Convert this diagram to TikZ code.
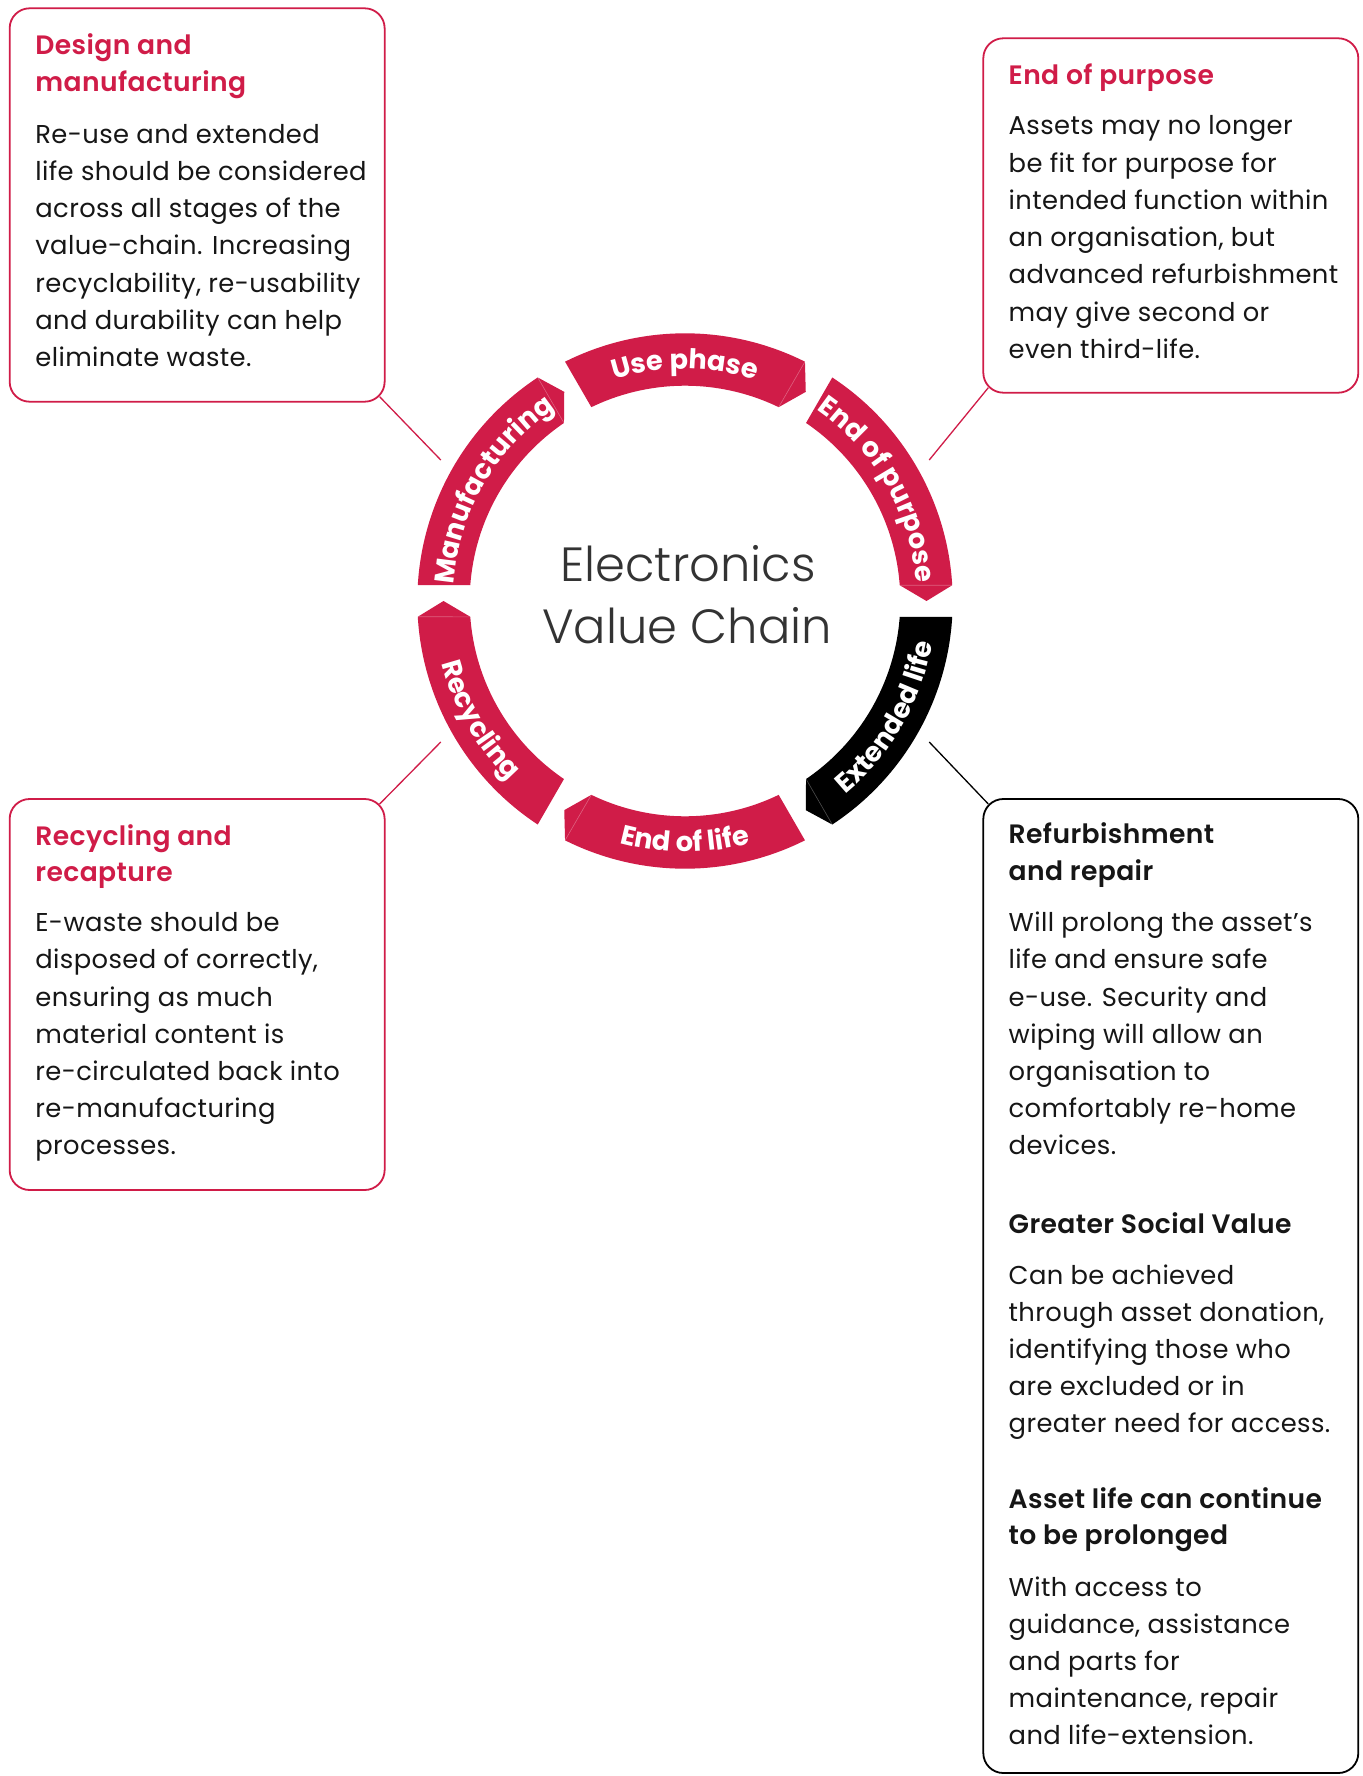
\documentclass[tikz,border=0pt]{standalone}
\usepackage{fontspec}
\setmainfont{Poppins}[BoldFont={* SemiBold}]
\newfontfamily\cardfont{Poppins}[LetterSpace=1.5, BoldFont={* SemiBold}]
\newfontfamily\ringfamily{Poppins}
\newfontfamily\lightfont{Poppins Light}
\usetikzlibrary{calc,decorations.text}

\definecolor{vcred}{RGB}{208,28,72}
\definecolor{ink}{RGB}{22,22,22}
\definecolor{titlegrey}{RGB}{51,51,51}

\newcommand{\ringfont}{\ringfamily\bfseries\fontsize{13.6}{15}\selectfont}
\newcommand{\cardlines}[1]{\parbox[t]{200pt}{#1}}

\tikzset{
  card/.style={draw=vcred, line width=0.9pt, rounded corners=10pt, minimum width=187.5pt},
  cardhead/.style={anchor=base west, inner sep=0pt, text=vcred, font=\cardfont\bfseries\fontsize{13.3}{18.35}\selectfont},
  cardbody/.style={anchor=base west, inner sep=0pt, text=ink, font=\cardfont\fontsize{12.9}{18.6}\selectfont},
  centretitle/.style={anchor=base, inner sep=0pt, text=titlegrey, font=\lightfont\fontsize{24}{30}\selectfont},
  link/.style={draw=vcred, line width=0.65pt},
}

\begin{document}
\begin{tikzpicture}[x=0.5pt, y=0.5pt]
	\path[fill=white, use as bounding box] (0,0) rectangle (1362,-1776);

	% the ring: six chevron pieces, each 60 degrees wide with a gap
	% of constant width between them; the tip reaches the gap's middle
	\begin{scope}[shift={(685,-601)}]
	\foreach \c/\name/\txt/\col/\s/\r in {150/mfg/Manufacturing/vcred/1/232,
		90/use/Use phase/vcred/1/232, 30/eop/End of purpose/vcred/1/232,
		-30/ext/Extended life/black/-1/251, -90/eol/End of life/vcred/-1/251,
		-150/rec/Recycling/vcred/-1/251}
	{
		\fill[\col] (\c+26.62:267.7) arc[start angle=\c+26.62, end angle=\c-26.62, radius=267.7]
			-- (\c-30:241.5) -- (\c-25.79:215.3)
			arc[start angle=\c-25.79, end angle=\c+25.79, radius=215.3] -- cycle;
		% faint seam where the head meets the body
		\draw[white, opacity=0.3, line width=0.3pt] (\c-26.62:267.7) -- (\c-25.79:215.3);
		\path[decorate, decoration={text along path, text align=center, text color=white,
			text/.expanded={|\noexpand\ringfont|\txt}}]
			(\c+32*\s:\r) arc[start angle=\c+32*\s, end angle=\c-32*\s, radius=\r];
		\coordinate (\name-tip) at (\c:282);
	}
	\end{scope}

	\node[centretitle] (title-a) at (688,-581.7) {Electronics};
	\node[centretitle] (title-b) at (687,-643.3) {Value Chain};

	% the four cards
	\node[card, minimum height=196.7pt] (design) at (197.15,-205) {};
	\node[card, minimum height=177.2pt] (purpose) at (1170.8,-215.5) {};
	\node[card, minimum height=195.5pt] (recycle) at (197.15,-994.5) {};
	\node[card, draw=black, minimum height=487pt] (refurb) at (1170.8,-1286) {};

	\node[cardhead] (design-head) at (35,-55) {\cardlines{Design and\\manufacturing}};
	\node[cardbody] (design-body) at (35,-143.3) {\cardlines{Re-use and extended\\life should be considered\\across all stages of the\\value-chain. Increasing\\recyclability, re-usability\\and durability can help\\eliminate waste.}};

	\node[cardhead] (purpose-head) at (1008.3,-85) {\cardlines{End of purpose}};
	\node[cardbody] (purpose-body) at (1008.3,-135) {\cardlines{Assets may no longer\\be fit for purpose for\\intended function within\\an organisation, but\\advanced refurbishment\\may give second or\\even third-life.}};

	\node[cardhead] (recycle-head) at (35,-845) {\cardlines{Recycling and\\recapture}};
	\node[cardbody] (recycle-body) at (35,-931.7) {\cardlines{E-waste should be\\disposed of correctly,\\ensuring as much\\material content is\\re-circulated back into\\re-manufacturing\\processes.}};

	\node[cardhead, text=ink] (refurb-head) at (1008.3,-843.3) {\cardlines{Refurbishment\\and repair}};
	\node[cardbody] (refurb-body) at (1008.3,-931.7) {\cardlines{Will prolong the asset’s\\life and ensure safe\\e-use. Security and\\wiping will allow an\\organisation to\\comfortably re-home\\devices.}};
	\node[cardhead, text=ink] (social-head) at (1008.3,-1233) {\cardlines{Greater Social Value}};
	\node[cardbody] (social-body) at (1008.3,-1284) {\cardlines{Can be achieved\\through asset donation,\\identifying those who\\are excluded or in\\greater need for access.}};
	\node[cardhead, text=ink] (prolong-head) at (1008.3,-1508) {\cardlines{Asset life can continue\\to be prolonged}};
	\node[cardbody] (prolong-body) at (1008.3,-1596) {\cardlines{With access to\\guidance, assistance\\and parts for\\maintenance, repair\\and life-extension.}};

	% leader lines from the ring to the rounded corners
	\draw[link] (mfg-tip) -- ($(design.south east)+(-5.86,5.86)$);
	\draw[link] (eop-tip) -- ($(purpose.south west)+(5.86,5.86)$);
	\draw[link] (rec-tip) -- ($(recycle.north east)+(-5.86,-5.86)$);
	\draw[link, draw=black] (ext-tip) -- ($(refurb.north west)+(5.86,-5.86)$);
\end{tikzpicture}
\end{document}
